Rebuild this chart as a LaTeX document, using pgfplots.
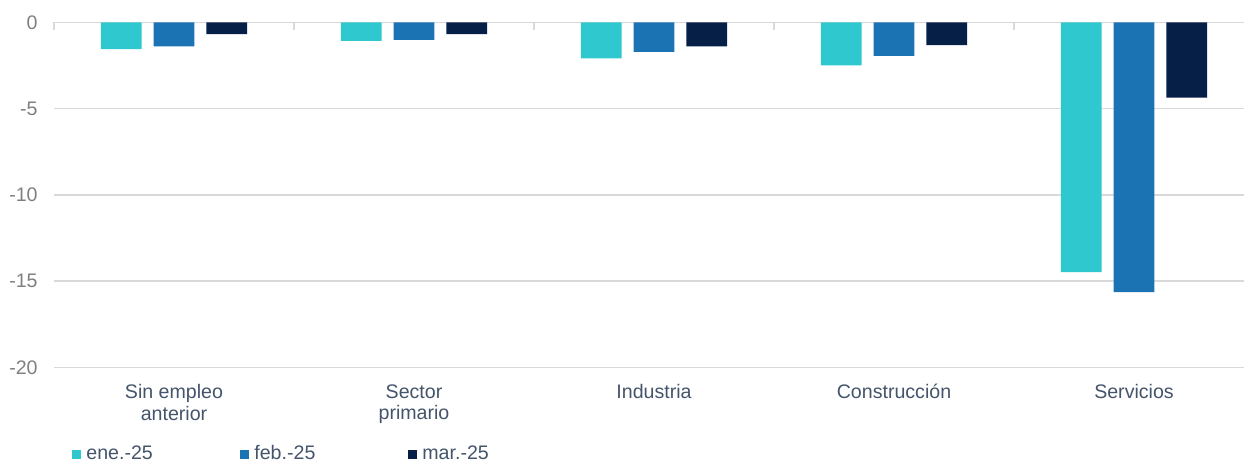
\documentclass[border=0pt]{standalone}
\usepackage{pgfplots}
\pgfplotsset{compat=1.18}
\usepackage{fontspec}
\setmainfont{Liberation Sans}
\definecolor{ene}{HTML}{2EC8CE}
\definecolor{feb}{HTML}{1B73B4}
\definecolor{mar}{HTML}{061F47}
\definecolor{gridc}{HTML}{D9D9D9}
\definecolor{txt}{HTML}{44546A}
\definecolor{tck}{HTML}{7F7F7F}
\begin{document}
\begin{tikzpicture}
\begin{axis}[
    name=ax,
    scale only axis,
    width=600pt, height=172.5pt,
    xmin=-0.5, xmax=4.5, ymin=-20, ymax=0,
    axis x line=bottom, axis y line=left,
    axis line style={draw=none},
    clip=false,
    ymajorgrids,
    grid style={gridc, line width=0.75pt},
    major tick length=0pt,
    ytick={-20,-15,-10,-5,0},
    yticklabels={-20,-15,-10,-5,0},
    yticklabel style={inner sep=0pt, xshift=-8pt, text=tck, font=\fontsize{9.8}{11}\selectfont},
    xtick={0,1,2,3,4},
    xticklabels={{Sin empleo\\anterior},{Sector\\primario},Industria,Construcción,Servicios},
    xticklabel style={align=center, inner sep=0pt, yshift=-8.4pt, text=txt, font=\fontsize{9.8}{10.85}\selectfont},
    legend columns=3,
    legend image code/.code={\fill[#1] (0pt,-3.3pt) rectangle (4.5pt,1.2pt); \path (7pt,0pt);},
    legend style={at={(axis description cs:0,0)}, anchor=north west,
        xshift=9pt, yshift=-38.85pt, draw=none, fill=none, inner sep=0pt,
        nodes={inner sep=0pt, text height=7pt, text depth=0pt},
        font=\fontsize{9.8}{11}\selectfont, text=txt},
]
\addplot[ybar, fill=ene, draw=none, bar width=20.35pt, bar shift=-26.35pt]
    coordinates {(0,-1.55) (1,-1.08) (2,-2.09) (3,-2.49) (4,-14.48)};
\addplot[ybar, fill=feb, draw=none, bar width=20.35pt, bar shift=0pt]
    coordinates {(0,-1.40) (1,-1.02) (2,-1.72) (3,-1.95) (4,-15.64)};
\addplot[ybar, fill=mar, draw=none, bar width=20.35pt, bar shift=26.35pt]
    coordinates {(0,-0.69) (1,-0.69) (2,-1.40) (3,-1.32) (4,-4.37)};
\legend{\makebox[77pt][l]{ene.-25}, \makebox[77pt][l]{feb.-25}, mar.-25}
% small category separators below the zero line
\pgfplotsinvokeforeach{-0.5,0.5,1.5,2.5,3.5}{
  \draw[gridc, line width=0.6pt] (axis cs:#1,0) -- ++(0pt,-3.8pt);
}
\end{axis}
\pgfresetboundingbox
\path[use as bounding box] ([shift={(-27pt,-46.85pt)}]ax.south west) rectangle ([shift={(-5pt,11.15pt)}]ax.north east);
\end{tikzpicture}
\end{document}
